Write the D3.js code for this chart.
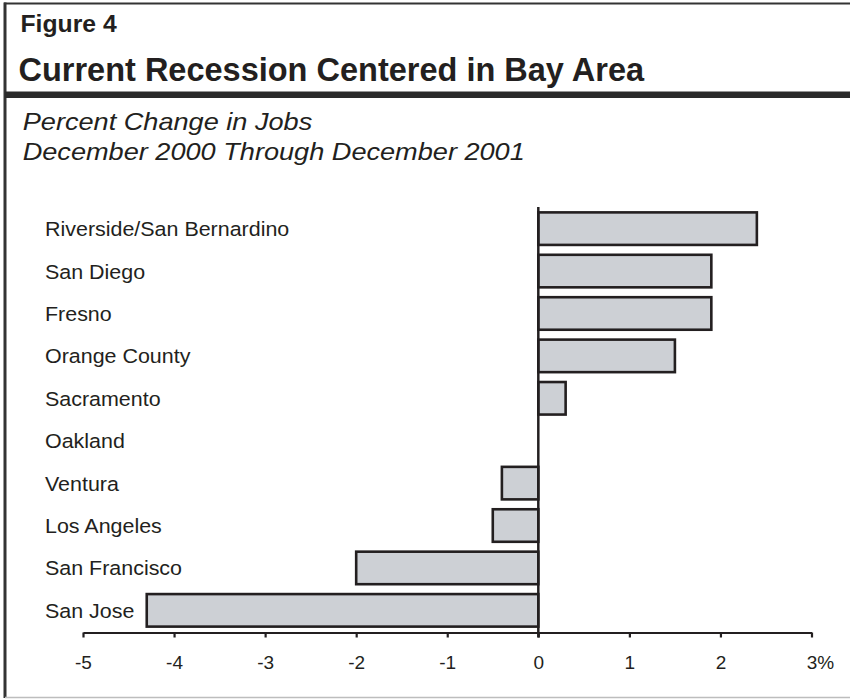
<!DOCTYPE html>
<html><head><meta charset="utf-8">
<script src="https://cdn.jsdelivr.net/npm/d3@7"></script>
<style>body{margin:0;background:#fff}svg{display:block}</style>
</head><body>
<svg id="c" width="850" height="699"></svg>
<script>
const categories = ["Riverside/San Bernardino","San Diego","Fresno","Orange County","Sacramento","Oakland","Ventura","Los Angeles","San Francisco","San Jose"];
const values = [2.4, 1.9, 1.9, 1.5, 0.3, 0, -0.4, -0.5, -2.0, -4.3];
const tickValues = [-5, -4, -3, -2, -1, 0, 1, 2, 3];
const tickLabels = ["-5", "-4", "-3", "-2", "-1", "0", "1", "2", "3%"];
const figureLabel = "Figure 4";
const titleText = "Current Recession Centered in Bay Area";
const subtitleLines = ["Percent Change in Jobs", "December 2000 Through December 2001"];

const ink = "#231f20";
const font = "'Liberation Sans', Arial, Helvetica, sans-serif";
const svg = d3.select("#c");

// frame
svg.append("rect").attr("x",0).attr("y",0).attr("width",850).attr("height",699).attr("fill","#fff");
svg.append("line").attr("x1",4).attr("x2",850).attr("y1",3.5).attr("y2",3.5).attr("stroke","#333").attr("stroke-width",2);
svg.append("line").attr("x1",5).attr("x2",5).attr("y1",2.5).attr("y2",698).attr("stroke","#333").attr("stroke-width",3);
svg.append("line").attr("x1",5).attr("x2",850).attr("y1",697.5).attr("y2",697.5).attr("stroke","#bdbdbd").attr("stroke-width",1.5);
svg.append("rect").attr("x",5).attr("y",91.5).attr("width",845).attr("height",6.5).attr("fill","#2a2a2a");

function stretchedText(x, y, sx, txt, size, weight, style) {
  const g = svg.append("g").attr("transform", `translate(${x},${y}) scale(${sx},1)`);
  return g.append("text").attr("x",0).attr("y",0)
    .attr("font-family",font).attr("font-size",size)
    .attr("font-weight",weight||"normal").attr("font-style",style||"normal")
    .attr("fill",ink).text(txt);
}

stretchedText(20.5, 32, 1.03, figureLabel, 24, "bold");
stretchedText(18.5, 81, 1, titleText, 32.5, "bold");
subtitleLines.forEach((t,i) => stretchedText(22.7, 130 + i*30, 1.18, t, 23, "normal", "italic"));

// scales
const x = d3.scaleLinear().domain([-5, 3]).range([83, 811.5]);
const y = d3.scaleBand().domain(categories).range([207, 632]).paddingInner(0.233).paddingOuter(0.127);

// bars
svg.append("g").selectAll("rect").data(values).join("rect")
  .attr("x", d => x(Math.min(0,d)))
  .attr("width", d => Math.abs(x(d) - x(0)))
  .attr("y", (d,i) => y(categories[i]))
  .attr("height", y.bandwidth())
  .attr("fill", "#cdd0d5")
  .attr("stroke", ink)
  .attr("stroke-width", 2.6)
  .attr("display", d => d === 0 ? "none" : null);

// category labels
categories.forEach(c => {
  stretchedText(45, y(c) + y.bandwidth()/2 + 7.5, 1.1, c, 19.5, "normal");
});

// x axis
const axisY = 632.5;
const axis = d3.axisBottom(x).tickValues(tickValues).tickSize(5).tickSizeOuter(0).tickPadding(0)
  .tickFormat(() => "");
const ag = svg.append("g").attr("transform", `translate(0,${axisY})`).call(axis);
ag.select(".domain").attr("stroke", ink).attr("stroke-width", 2.2);
ag.selectAll(".tick line").attr("stroke", ink).attr("stroke-width", 2.2);
ag.selectAll(".tick").each(function(d,i){
  const lab = tickLabels[i];
  const t = d3.select(this).append("text")
    .attr("y", 36.5).attr("fill", ink)
    .attr("font-family", font).attr("font-size", 19)
    .text(lab);
  if (lab.endsWith("%")) t.attr("text-anchor","start").attr("x", -5.3);
  else t.attr("text-anchor","middle").attr("x", 0);
});

// zero line
svg.append("line").attr("x1", x(0)).attr("x2", x(0)).attr("y1", 207).attr("y2", axisY + 5)
  .attr("stroke", ink).attr("stroke-width", 2.5);
</script>
</body></html>
